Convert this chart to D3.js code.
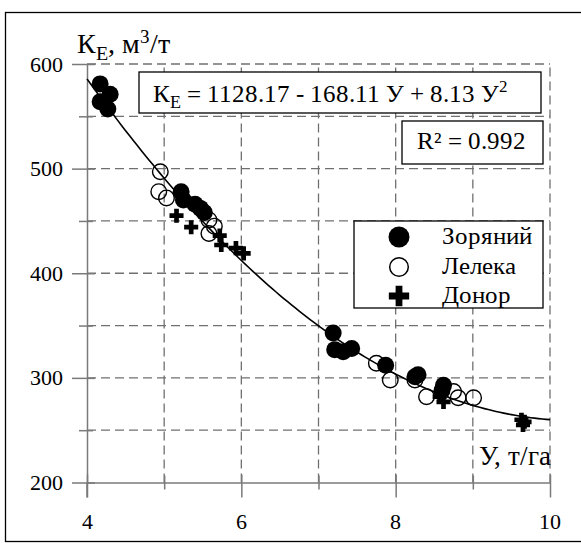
<!DOCTYPE html>
<html>
<head>
<meta charset="utf-8">
<script src="https://cdn.jsdelivr.net/npm/d3@7"></script>
<style>
  @font-face {
    font-family: 'ChartSerif';
    src: local('Liberation Serif'), local('LiberationSerif'), local('LiberationSerif-Regular'), local('Times New Roman');
  }
  body { margin: 0; }
</style>
</head>
<body>
<div id="chart"></div>
<script>
const fontStack = '"ChartSerif", "Liberation Serif", "Times New Roman", Tinos, serif';

// yield (т/га) ticks and water use (м3/т) ticks
const yieldTicks = [4, 6, 8, 10];
const yieldMinorTicks = [5, 7, 9];
const waterTicks = [200, 300, 400, 500, 600];
const waterMinorTicks = [250, 350, 450, 550];

// fitted curve  К = a + b*У + c*У^2
const fitCoef = [1128.17, -168.11, 8.13];
const fitDomain = [4, 10];

// Зоряний
const zoryanyiX = [4.17, 4.30, 4.17, 4.27, 5.22, 5.25, 5.40, 5.47, 5.52, 7.19, 7.21, 7.32, 7.43, 7.87, 8.25, 8.29, 8.62, 8.60];
const zoryanyiY = [581, 571, 564, 557, 478, 470, 466, 462, 458, 343, 327, 325, 328, 312, 301, 303, 293, 288];
// Лелека
const lelekaX = [4.95, 4.93, 5.03, 5.58, 5.65, 5.58, 7.75, 7.93, 8.25, 8.40, 8.75, 8.81, 9.01];
const lelekaY = [497, 478, 472, 451, 445, 438, 314, 298, 298, 282, 287, 281, 281];
// Донор
const donorX = [5.16, 5.35, 5.72, 5.74, 5.93, 6.03, 8.57, 8.62, 9.63, 9.65, 9.67];
const donorY = [455, 444, 436, 427, 424, 419, 282, 277, 260, 255, 258];

const legendLabels = ['Зоряний', 'Лелека', 'Донор'];

const axisGrey = '#7a7a7a';

// every text gets the serif face set directly on it
const serifText = (parent, size) => parent.append('text')
  .style('font-family', fontStack)
  .attr('font-size', size)
  .attr('fill', '#000');

class YieldChart {
  constructor(el) {
    this.el = el;
    this.width = 581;
    this.height = 543;
    this.x = d3.scaleLinear().domain([4, 10]).range([87, 550]);
    this.y = d3.scaleLinear().domain([200, 600]).range([482.5, 64]);
  }

  render() {
    this.svg = d3.select(this.el).append('svg')
      .attr('width', this.width)
      .attr('height', this.height)
      .style('font-family', fontStack);

    this.svg.append('rect')
      .attr('x', 5.5).attr('y', 12.5)
      .attr('width', 620).attr('height', 529)
      .attr('fill', '#fff').attr('stroke', '#000').attr('stroke-width', 1.3);

    this.drawGrid();
    this.drawAxes();
    this.drawCurve();
    this.drawPoints();
    this.drawBoxes();
    this.drawLegend();
  }

  drawGrid() {
    const g = this.svg.append('g')
      .attr('stroke', '#707070')
      .attr('stroke-width', 1.3)
      .attr('stroke-dasharray', '9 5');
    g.selectAll('.h')
      .data(d3.range(250, 601, 50))
      .enter().append('line')
        .attr('x1', this.x(4)).attr('x2', this.x(10))
        .attr('y1', d => this.y(d)).attr('y2', d => this.y(d));
    g.selectAll('.v')
      .data(d3.range(5, 11, 1))
      .enter().append('line')
        .attr('x1', d => this.x(d)).attr('x2', d => this.x(d))
        .attr('y1', this.y(200)).attr('y2', this.y(600));
  }

  styleAxis(g) {
    g.attr('font-family', null).attr('font-size', null);
    g.selectAll('path, line').attr('stroke', axisGrey).attr('stroke-width', 1.5);
    g.selectAll('text').remove();
  }

  drawAxes() {
    const bottom = this.y(200);
    const left = this.x(4);

    const xMajor = this.svg.append('g')
      .attr('transform', `translate(0,${bottom})`)
      .call(d3.axisBottom(this.x).tickValues(yieldTicks).tickSize(15).tickSizeOuter(0));
    this.styleAxis(xMajor);
    xMajor.selectAll('.tick line').attr('y1', -8);

    const xMinor = this.svg.append('g')
      .attr('transform', `translate(0,${bottom})`)
      .call(d3.axisBottom(this.x).tickValues(yieldMinorTicks).tickSize(7).tickSizeOuter(0));
    xMinor.select('.domain').remove();
    this.styleAxis(xMinor);
    xMinor.selectAll('.tick line').attr('y1', -7);

    const yMajor = this.svg.append('g')
      .attr('transform', `translate(${left},0)`)
      .call(d3.axisLeft(this.y).tickValues(waterTicks).tickSize(15).tickSizeOuter(0));
    this.styleAxis(yMajor);
    yMajor.selectAll('.tick line').attr('x1', 8);

    const yMinor = this.svg.append('g')
      .attr('transform', `translate(${left},0)`)
      .call(d3.axisLeft(this.y).tickValues(waterMinorTicks).tickSize(8).tickSizeOuter(0));
    yMinor.select('.domain').remove();
    this.styleAxis(yMinor);
    yMinor.selectAll('.tick line').attr('x1', 6);

    // tick labels placed from the same scales
    yieldTicks.forEach(d => {
      serifText(this.svg, 22)
        .attr('x', this.x(d)).attr('y', bottom + 46)
        .attr('text-anchor', 'middle')
        .text(d3.format('d')(d));
    });
    waterTicks.forEach(d => {
      serifText(this.svg, 22)
        .attr('x', left - 24).attr('y', this.y(d) + 7.5)
        .attr('text-anchor', 'end')
        .text(d3.format('d')(d));
    });

    // vertical axis runs a little below the horizontal one
    this.svg.append('line')
      .attr('x1', left).attr('x2', left)
      .attr('y1', bottom).attr('y2', bottom + 15)
      .attr('stroke', axisGrey).attr('stroke-width', 1.5);

    // axis titles
    const yTitle = serifText(this.svg, 28).attr('x', 77).attr('y', 53);
    yTitle.append('tspan').text('К');
    yTitle.append('tspan').attr('dy', 7).attr('font-size', 20).text('E');
    yTitle.append('tspan').attr('dy', -7).text(', м');
    yTitle.append('tspan').attr('dy', -10).attr('font-size', 19).text('3');
    yTitle.append('tspan').attr('dy', 10).text('/т');

    serifText(this.svg, 27)
      .attr('x', 551).attr('y', 465)
      .attr('text-anchor', 'end')
      .text('У, т/га');
  }

  drawCurve() {
    const f = (u) => fitCoef[0] + fitCoef[1] * u + fitCoef[2] * u * u;
    const xs = d3.range(fitDomain[0], fitDomain[1] + 0.001, 0.05);
    const line = d3.line()
      .x(d => this.x(d))
      .y(d => this.y(f(d)));
    this.svg.append('path')
      .datum(xs)
      .attr('d', line)
      .attr('fill', 'none')
      .attr('stroke', '#000')
      .attr('stroke-width', 1.6);
  }

  drawPoints() {
    const zoryanyi = zoryanyiX.map((d, i) => [d, zoryanyiY[i]]);
    const leleka = lelekaX.map((d, i) => [d, lelekaY[i]]);
    const donor = donorX.map((d, i) => [d, donorY[i]]);

    this.svg.append('g')
      .selectAll('circle')
        .data(zoryanyi)
      .enter().append('circle')
        .attr('cx', d => this.x(d[0]))
        .attr('cy', d => this.y(d[1]))
        .attr('r', 8.5)
        .attr('fill', '#000');

    this.svg.append('g')
      .selectAll('circle')
        .data(leleka)
      .enter().append('circle')
        .attr('cx', d => this.x(d[0]))
        .attr('cy', d => this.y(d[1]))
        .attr('r', 7.8)
        .attr('fill', 'none')
        .attr('stroke', '#000')
        .attr('stroke-width', 1.4);

    const cross = d3.symbol().type(d3.symbolCross).size(110);
    this.svg.append('g')
      .selectAll('path')
        .data(donor)
      .enter().append('path')
        .attr('transform', d => `translate(${this.x(d[0])},${this.y(d[1])})`)
        .attr('d', cross)
        .attr('fill', '#000');
  }

  box(x, y, w, h) {
    this.svg.append('rect')
      .attr('x', x).attr('y', y)
      .attr('width', w).attr('height', h)
      .attr('fill', '#fff').attr('stroke', '#000').attr('stroke-width', 1.3);
  }

  drawBoxes() {
    this.box(139, 72, 402, 41);
    const eq = serifText(this.svg, 25).attr('x', 153).attr('y', 102);
    eq.append('tspan').text('К');
    eq.append('tspan').attr('dy', 6).attr('font-size', 18).text('E');
    eq.append('tspan').attr('dy', -6)
      .text(`\u00a0=\u00a0${fitCoef[0]} - ${Math.abs(fitCoef[1])} У + ${fitCoef[2]} У`);
    eq.append('tspan').attr('dy', -10).attr('font-size', 17).text('2');

    this.box(402, 121, 141, 43);
    serifText(this.svg, 25)
      .attr('x', 417).attr('y', 149)
      .text('R² = 0.992');
  }

  drawLegend() {
    this.box(354, 221, 189, 87);

    const rows = [237, 267, 296];
    const sx = 399;

    this.svg.append('circle')
      .attr('cx', sx).attr('cy', rows[0]).attr('r', 10.5).attr('fill', '#000');
    this.svg.append('circle')
      .attr('cx', sx).attr('cy', rows[1]).attr('r', 9.3)
      .attr('fill', 'none').attr('stroke', '#000').attr('stroke-width', 1.5);
    this.svg.append('path')
      .attr('transform', `translate(${sx},${rows[2]})`)
      .attr('d', d3.symbol().type(d3.symbolCross).size(230))
      .attr('fill', '#000');

    legendLabels.forEach((label, i) => {
      serifText(this.svg, 25)
        .attr('x', 442)
        .attr('y', rows[i] + 7)
        .text(label);
    });
  }
}

new YieldChart('#chart').render();
</script>
</body>
</html>
